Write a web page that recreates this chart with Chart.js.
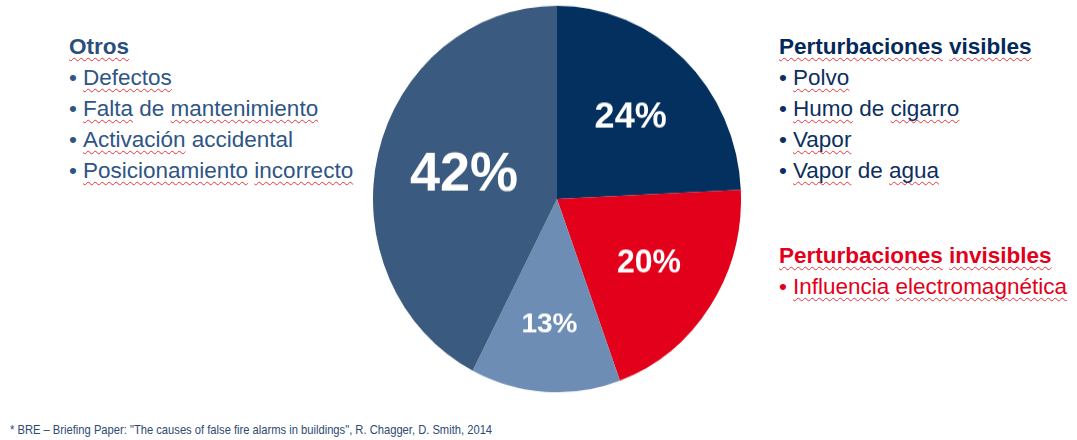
<!DOCTYPE html>
<html>
<head>
<meta charset="utf-8">
<script src="https://cdn.jsdelivr.net/npm/chart.js@4.4.1/dist/chart.umd.min.js"></script>
<style>
  html, body { margin: 0; padding: 0; background: #fff; }
  body { width: 1077px; height: 440px; position: relative; overflow: hidden;
         font-family: "Liberation Sans", Arial, sans-serif; }
  .block { position: absolute; font-size: 22.5px; line-height: 31px; white-space: nowrap; }
  .block div { height: 31px; }
  .head { font-weight: bold; }
  .sp { text-decoration: underline wavy #e8343f; text-decoration-thickness: 1px;
        text-underline-offset: 3px; text-decoration-skip-ink: none; }
  .bul { display: inline-block; width: 14px; }
  #left { left: 69px; top: 31px; color: #2e5585; }
  #left .head { color: #2a4f7e; }
  #right { left: 779px; top: 31px; color: #0c2f5f; }
  #right .head { color: #03295a; }
  #red { left: 779px; top: 240px; color: #e2001a; }
  #pieBox { position: absolute; left: 373px; top: 15px; width: 368px; height: 368px;
            transform: scaleY(1.05); transform-origin: 50% 50%; }
  #foot { position: absolute; left: 10px; top: 422px; font-size: 13px; color: #2d4a73;
          transform: scaleX(0.86); transform-origin: 0 50%; white-space: nowrap; }
</style>
</head>
<body>
<div id="left" class="block">
  <div class="head"><span class="sp">Otros</span></div>
  <div><span class="bul">•</span><span class="sp">Defectos</span></div>
  <div><span class="bul">•</span><span class="sp">Falta</span> de <span class="sp">mantenimiento</span></div>
  <div><span class="bul">•</span><span class="sp">Activación</span> accidental</div>
  <div><span class="bul">•</span><span class="sp">Posicionamiento</span> <span class="sp">incorrecto</span></div>
</div>
<div id="right" class="block">
  <div class="head"><span class="sp">Perturbaciones</span> <span class="sp">visibles</span></div>
  <div><span class="bul">•</span><span class="sp">Polvo</span></div>
  <div><span class="bul">•</span><span class="sp">Humo</span> de <span class="sp">cigarro</span></div>
  <div><span class="bul">•</span><span class="sp">Vapor</span></div>
  <div><span class="bul">•</span><span class="sp">Vapor</span> de <span class="sp">agua</span></div>
</div>
<div id="red" class="block">
  <div class="head"><span class="sp">Perturbaciones</span> <span class="sp">invisibles</span></div>
  <div><span class="bul">•</span><span class="sp">Influencia</span> <span class="sp">electromagnética</span></div>
</div>
<div id="pieBox"><canvas id="myChart" width="368" height="368"></canvas></div>
<div id="foot">* BRE – Briefing Paper: "The causes of false fire alarms in buildings", R. Chagger, D. Smith, 2014</div>

<script>
const categories = ['Perturbaciones visibles', 'Perturbaciones invisibles', 'Otros (parcial)', 'Otros'];
const values = [24, 20, 13, 42];
const colors = ['#03305f', '#e2001a', '#6e8db4', '#3b5a80'];
// label look: font size and distance from centre as share of radius
const labelSizes = [36, 32, 28, 54];
const labelRadius = [0.58, 0.6, 0.65, 0.52];

const pctLabels = {
    id: 'pctLabels',
    afterDatasetsDraw(chart) {
        const ctx = chart.ctx;
        const meta = chart.getDatasetMeta(0);
        meta.data.forEach((arc, i) => {
            const mid = (arc.startAngle + arc.endAngle) / 2;
            const r = arc.outerRadius * labelRadius[i];
            const x = arc.x + Math.cos(mid) * r;
            const y = arc.y + Math.sin(mid) * r;
            ctx.save();
            ctx.translate(x, y);
            ctx.scale(1, 1 / 1.05);
            ctx.fillStyle = '#ffffff';
            ctx.font = 'bold ' + labelSizes[i] + 'px "Liberation Sans", Arial, sans-serif';
            ctx.textAlign = 'center';
            ctx.textBaseline = 'middle';
            ctx.fillText(values[i] + '%', 0, 0);
            ctx.restore();
        });
    }
};

const ctx = document.getElementById('myChart').getContext('2d');
window.myChart = new Chart(ctx, {
    type: 'pie',
    data: {
        labels: categories,
        datasets: [{
            data: values,
            backgroundColor: colors,
            borderWidth: 0
        }]
    },
    options: {
        responsive: false,
        animation: false,
        layout: { padding: 0 },
        plugins: {
            legend: { display: false },
            tooltip: { enabled: false }
        }
    },
    plugins: [pctLabels]
});
</script>
</body>
</html>
